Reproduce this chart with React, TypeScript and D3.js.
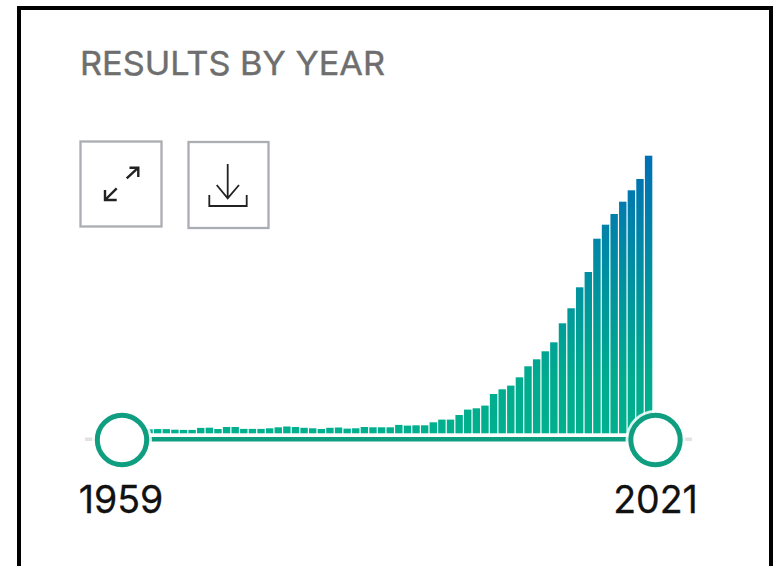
import * as d3 from "d3";

const title = "RESULTS BY YEAR";
const startYear = 1959;
const endYear = 2021;
const years = d3.range(startYear, endYear + 1);

// first five sit behind the left handle
const results = [
  4, 4, 4, 4, 4,
  4.2, 4.2, 3.6, 3.4, 3.4, 5.4, 5.6, 4.3, 6.3, 6.3,
  4.4, 4.4, 4.4, 5, 6, 6.8, 6.3, 5.5, 5, 4.3,
  5.5, 5.8, 4.7, 5, 6.3, 6, 6, 6, 8.4, 7.7,
  8, 8, 11, 13.7, 13.7, 18.3, 23.7, 25, 27.7, 39.3,
  44, 47.7, 56, 67, 74, 82, 91, 110, 125, 146,
  161.3, 194.6, 208.6, 219.3, 231.6, 243, 254.3, 277.6,
];

const width = 773;
const height = 566;
const baseline = 433.3;
const trackY = 439.3;

const x = d3.scaleBand<number>().domain(years).range([110.9, 652.3]).paddingInner(0.14);
const y = d3.scaleLinear().domain([0, d3.max(results) ?? 0]).range([baseline, 155.7]);
const handleX = d3.scaleLinear().domain([startYear, endYear]).range([122, 655.5]);

const green = "#0f9f80";
const font = "Inter, 'Liberation Sans', sans-serif";

export default function App() {
  return (
    <svg
      width={width}
      height={height}
      style={{ position: "absolute", left: 0, top: 0, display: "block", background: "#fff" }}
    >
      <defs>
        <linearGradient id="barFill" gradientUnits="userSpaceOnUse" x1="0" x2="0" y1={baseline} y2={y.range()[1]}>
          <stop offset="0" stopColor="#00b08e" />
          <stop offset="0.2" stopColor="#00ab8e" />
          <stop offset="1" stopColor="#006fb5" />
        </linearGradient>
      </defs>

      {/* frame */}
      <path d="M19,566V8H771V566" fill="none" stroke="#000" strokeWidth={4} />

      <text
        x={80}
        y={75}
        fontFamily={font}
        fontSize={33}
        fill="#6e6e6e"
        stroke="#6e6e6e"
        strokeWidth={0.4}
        textLength={305}
        lengthAdjust="spacingAndGlyphs"
      >
        {title}
      </text>

      {/* expand button */}
      <rect x={80.5} y={141.5} width={81} height={85} fill="#fff" stroke="#aaadb2" strokeWidth={2.3} />
      <g fill="none" stroke="#222" strokeWidth={2.4}>
        <path d="M126.7,178.3L138.3,167.7M129.5,167.7H138.3V177" />
        <path d="M116.7,188.3L105,200M105,190V200H116.7" />
      </g>

      {/* download button */}
      <rect x={188.5} y={142} width={80} height={86} fill="#fff" stroke="#aaadb2" strokeWidth={2.3} />
      <g fill="none" stroke="#222" strokeWidth={1.8}>
        <path d="M227.7,164V198M216.7,185L227.7,198.3L239,185" />
        <path d="M209.3,195V206H246.7V195" />
      </g>

      {/* bars */}
      <g>
        {years.map((year, i) => (
          <rect
            key={year}
            x={x(year)}
            y={y(results[i])}
            width={x.bandwidth()}
            height={baseline - y(results[i])}
            fill="url(#barFill)"
          />
        ))}
      </g>

      {/* slider track */}
      <line x1={85} x2={692} y1={trackY} y2={trackY} stroke="#e2e2e2" strokeWidth={3.5} />
      <line x1={handleX(startYear)} x2={handleX(endYear)} y1={trackY} y2={trackY} stroke={green} strokeWidth={4.5} />

      {[startYear, endYear].map((year) => (
        <g key={year}>
          <circle cx={handleX(year)} cy={440} r={30} fill="#fff" fillOpacity={0.85} />
          <circle cx={handleX(year)} cy={440} r={24.7} fill="#fff" stroke={green} strokeWidth={5} />
          <text
            x={handleX(year) - (year === startYear ? 1 : 0)}
            y={513}
            textAnchor="middle"
            fontFamily={font}
            fontSize={37.5}
            fill="#111"
            stroke="#111"
            strokeWidth={0.3}
          >
            {year}
          </text>
        </g>
      ))}
    </svg>
  );
}
